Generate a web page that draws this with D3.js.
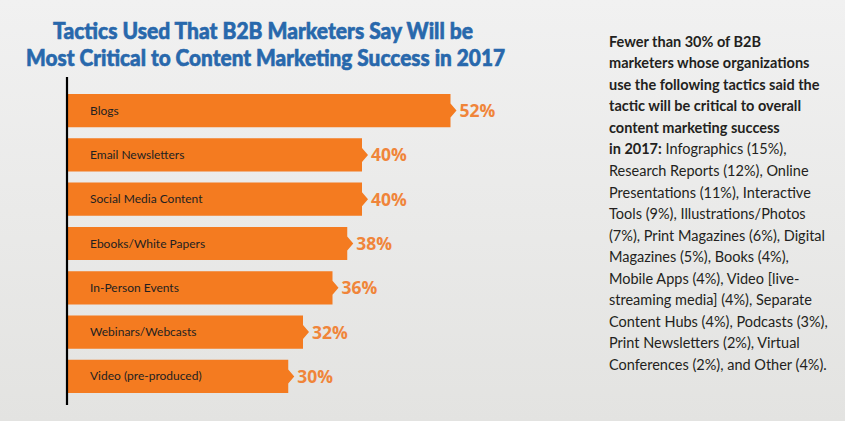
<!DOCTYPE html>
<html>
<head>
<meta charset="utf-8">
<script src="https://cdn.jsdelivr.net/npm/d3@7"></script>
<style>
  html, body { margin: 0; padding: 0; background: #e8e8e7; }
  svg { display: block; }
</style>
</head>
<body>
<svg id="chart" width="845" height="421"></svg>
<script>
const titleLines = [
  "Tactics Used That B2B Marketers Say Will be",
  "Most Critical to Content Marketing Success in 2017"
];
const categories = [
  "Blogs",
  "Email Newsletters",
  "Social Media Content",
  "Ebooks/White Papers",
  "In-Person Events",
  "Webinars/Webcasts",
  "Video (pre-produced)"
];
const values = [52, 40, 40, 38, 36, 32, 30];
const noteLines = [
  [["Fewer than 30% of B2B", true]],
  [["marketers whose organizations", true]],
  [["use the following tactics said the", true]],
  [["tactic will be critical to overall", true]],
  [["content marketing success", true]],
  [["in 2017:", true], [" Infographics (15%),", false]],
  [["Research Reports (12%), Online", false]],
  [["Presentations (11%), Interactive", false]],
  [["Tools (9%), Illustrations/Photos", false]],
  [["(7%), Print Magazines (6%), Digital", false]],
  [["Magazines (5%), Books (4%),", false]],
  [["Mobile Apps (4%), Video [live-", false]],
  [["streaming media] (4%), Separate", false]],
  [["Content Hubs (4%), Podcasts (3%),", false]],
  [["Print Newsletters (2%), Virtual", false]],
  [["Conferences (2%), and Other (4%).", false]]
];

const svg = d3.select("#chart");
const W = 845, H = 421;

// background gradient
const defs = svg.append("defs");
const grad = defs.append("linearGradient").attr("id", "bg")
  .attr("x1", 0).attr("y1", 0).attr("x2", 0).attr("y2", 1);
grad.append("stop").attr("offset", "0%").attr("stop-color", "#f1f1f1");
grad.append("stop").attr("offset", "100%").attr("stop-color", "#e3e3e1");
svg.append("rect").attr("width", W).attr("height", H).attr("fill", "url(#bg)");

// title
const titleWidths = [420, 479];
const titleX = [263, 265.5];
const titleY = [38.5, 65.5];
svg.append("g").selectAll("text").data(titleLines).join("text")
  .attr("x", (d, i) => titleX[i])
  .attr("y", (d, i) => titleY[i])
  .attr("text-anchor", "middle")
  .attr("textLength", (d, i) => titleWidths[i])
  .attr("lengthAdjust", "spacingAndGlyphs")
  .style("font-family", "Lato, 'Open Sans', sans-serif")
  .style("font-weight", 900)
  .style("font-size", "22.5px")
  .style("fill", "#2868ac")
  .style("stroke", "#2868ac")
  .style("stroke-width", "0.6px")
  .text(d => d);

// scales
const x0 = 67;
const x = d3.scaleLinear().domain([0, 100]).range([x0, x0 + 737.5]);
const y = d3.scaleBand().domain(categories).range([94, 393]).paddingInner(0.25).paddingOuter(0);

const barColor = "#f47b20";
const tipW = 6, tipH = 14;

const bars = svg.append("g");
bars.selectAll("path").data(categories).join("path")
  .attr("d", (c, i) => {
    const xl = x(0), xr = x(values[i]);
    const yt = y(c), bh = y.bandwidth(), yc = yt + bh / 2;
    return `M${xl},${yt}H${xr}V${yc - tipH / 2}L${xr + tipW},${yc}L${xr},${yc + tipH / 2}V${yt + bh}H${xl}Z`;
  })
  .attr("fill", barColor);

// category labels inside bars
bars.selectAll("text.cat").data(categories).join("text")
  .attr("class", "cat")
  .attr("x", 90)
  .attr("y", c => y(c) + y.bandwidth() / 2 + 4)
  .style("font-family", "Lato, sans-serif")
  .style("font-size", "12px")
  .style("fill", "#231f20")
  .text(c => c);

// value labels
bars.selectAll("text.val").data(categories).join("text")
  .attr("class", "val")
  .attr("x", (c, i) => x(values[i]) + 9)
  .attr("y", (c, i) => y(c) + y.bandwidth() / 2 + 6.5)
  .style("font-family", "'Open Sans', sans-serif")
  .style("font-weight", 700)
  .style("font-size", "17.5px")
  .style("fill", "#f0853a")
  .text((c, i) => values[i] + "%");

// axis line
svg.append("line")
  .attr("x1", x0).attr("x2", x0)
  .attr("y1", 77).attr("y2", 405)
  .attr("stroke", "#000").attr("stroke-width", 2.2);

// side note
const note = svg.append("g");
note.selectAll("text").data(noteLines).join("text")
  .attr("x", 609)
  .attr("y", (d, i) => 46.7 + i * 21.55)
  .style("font-family", "Lato, sans-serif")
  .style("font-size", "14.5px")
  .style("fill", "#231f20")
  .each(function(segs) {
    const t = d3.select(this);
    segs.forEach(([s, b]) => {
      t.append("tspan").style("font-weight", b ? 700 : 400).text(s);
    });
  });
</script>
</body>
</html>
